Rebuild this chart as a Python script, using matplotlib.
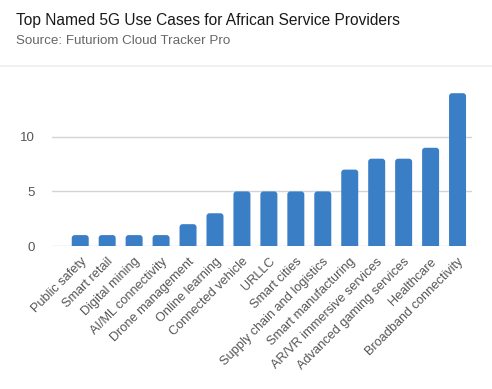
import matplotlib
matplotlib.use("Agg")
import matplotlib.pyplot as plt
from matplotlib.patches import FancyBboxPatch
from matplotlib.lines import Line2D

use_cases = [
    "Public safety", "Smart retail", "Digital mining", "AI/ML connectivity",
    "Drone management", "Online learning", "Connected vehicle", "URLLC",
    "Smart cities", "Supply chain and logistics", "Smart manufacturing",
    "AR/VR immersive services", "Advanced gaming services", "Healthcare",
    "Broadband connectivity",
]
counts = [1, 1, 1, 1, 2, 3, 5, 5, 5, 5, 7, 8, 8, 9, 14]
y_ticks = [0, 5, 10]

plt.rcParams['font.family'] = ['Liberation Sans', 'DejaVu Sans']

fig = plt.figure(figsize=(4.92, 3.89), dpi=100)
ax = fig.add_axes([0.105, 0.3676, 0.854, 0.3984])

bars = ax.bar(range(len(counts)), counts, width=0.63, color="#3a7ec5", zorder=2)
ax.set_xlim(-1.06, len(counts) - 1 + 0.53)
ax.set_ylim(0, 14.2)

# swap the flat bars for ones with rounded tops
x_per_px = (ax.get_xlim()[1] - ax.get_xlim()[0]) / (0.854 * 492)
y_per_px = (ax.get_ylim()[1] - ax.get_ylim()[0]) / (0.3984 * 389)
for b in bars:
    b.set_visible(False)
    p = FancyBboxPatch((b.get_x(), -0.6), b.get_width(), b.get_height() + 0.6,
                       boxstyle="round,pad=0,rounding_size=%f" % (3 * x_per_px),
                       mutation_aspect=y_per_px / x_per_px,
                       facecolor="#3a7ec5", edgecolor="none", zorder=2)
    ax.add_patch(p)

ax.set_yticks(y_ticks)
ax.grid(axis="y", color="#d4d4d4", linewidth=1, zorder=0)
ax.set_xticks(range(len(counts)))
ax.set_xticklabels(use_cases, rotation=45, ha="right", rotation_mode="anchor")
ax.tick_params(axis="both", length=0, colors="#555555", labelsize=9.2)
ax.tick_params(axis="y", pad=12, labelsize=9.5)
ax.tick_params(axis="x", pad=7)
for s in ax.spines.values():
    s.set_visible(False)

fig.text(16 / 492, 1 - 20 / 389, "Top Named 5G Use Cases for African Service Providers",
         fontsize=11.2, color="#1a1a1a", va="center", ha="left")
fig.text(16 / 492, 1 - 41 / 389, "Source: Futuriom Cloud Tracker Pro",
         fontsize=9.6, color="#666666", va="center", ha="left")
fig.add_artist(Line2D([0, 1], [1 - 66 / 389] * 2, color="#eeeeee", linewidth=1.2,
                      transform=fig.transFigure))

fig.savefig("out.png", dpi=100)
